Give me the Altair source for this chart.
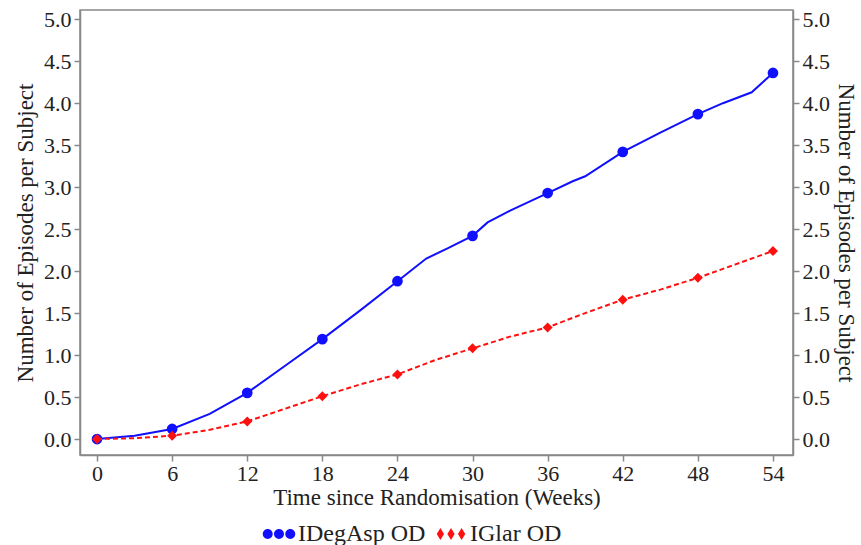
import altair as alt
import pandas as pd

# ---- data ----
series_names = ["IDegAsp OD", "IGlar OD"]
series_colors = ["#1010ff", "#ff1010"]

week_ticks = [0, 6, 12, 18, 24, 30, 36, 42, 48, 54]
y_ticks = [0.0, 0.5, 1.0, 1.5, 2.0, 2.5, 3.0, 3.5, 4.0, 4.5, 5.0]

blue_line_weeks = [0, 3, 6, 9, 12, 15, 18, 21, 24, 26.3, 28, 30, 31.2, 33, 36, 38, 39, 42, 45, 48, 50, 52.3, 54]
blue_line_vals = [0.0, 0.04, 0.12, 0.30, 0.55, 0.87, 1.19, 1.53, 1.88, 2.15, 2.27, 2.42, 2.58, 2.72, 2.93, 3.07, 3.13, 3.42, 3.65, 3.87, 4.00, 4.13, 4.36]

red_line_weeks = [0, 3, 6, 9, 12, 15, 18, 21, 24, 27, 30, 33, 36, 39, 42, 45, 48, 51, 54]
red_line_vals = [0.0, 0.01, 0.04, 0.11, 0.21, 0.36, 0.51, 0.65, 0.77, 0.94, 1.08, 1.22, 1.33, 1.50, 1.66, 1.78, 1.92, 2.08, 2.24]

marker_weeks = [0, 6, 12, 18, 24, 30, 36, 42, 48, 54]
blue_marker_vals = [0.0, 0.12, 0.55, 1.19, 1.88, 2.42, 2.93, 3.42, 3.87, 4.36]
red_marker_vals = [0.0, 0.04, 0.21, 0.51, 0.77, 1.08, 1.33, 1.66, 1.92, 2.24]

# ---- tables ----
blue_line = pd.DataFrame({"week": blue_line_weeks, "val": blue_line_vals})
red_line = pd.DataFrame({"week": red_line_weeks, "val": red_line_vals})
blue_pts = pd.DataFrame({"week": marker_weeks, "val": blue_marker_vals})
red_pts = pd.DataFrame({"week": marker_weeks, "val": red_marker_vals})
# legend-only table: its marks sit outside the x domain and are clipped away
legend_df = pd.DataFrame({"week": [-100, -100], "val": [0, 0], "series": series_names})

FONT = "Liberation Serif"
x_scale = alt.Scale(domain=[-1.36, 55.6], nice=False, zero=False)
y_scale = alt.Scale(domain=[-0.19, 5.11], nice=False, zero=False)

x_enc = alt.X("week:Q", scale=x_scale,
              axis=alt.Axis(values=week_ticks, title="Time since Randomisation (Weeks)", format="d"))

def y_enc(orient):
    return alt.Y("val:Q", scale=y_scale,
                 axis=alt.Axis(values=y_ticks, format=".1f", orient=orient,
                               title="Number of Episodes per Subject"))

three_dots = ("M -0.98 0 A 0.3 0.3 0 1 0 -0.38 0 A 0.3 0.3 0 1 0 -0.98 0 Z "
              "M -0.3 0 A 0.3 0.3 0 1 0 0.3 0 A 0.3 0.3 0 1 0 -0.3 0 Z "
              "M 0.38 0 A 0.3 0.3 0 1 0 0.98 0 A 0.3 0.3 0 1 0 0.38 0 Z")
three_diamonds = ("M -0.86 0 L -0.64 -0.36 L -0.42 0 L -0.64 0.36 Z "
                  "M -0.22 0 L 0 -0.36 L 0.22 0 L 0 0.36 Z "
                  "M 0.42 0 L 0.64 -0.36 L 0.86 0 L 0.64 0.36 Z")

legend = alt.Legend(
    title=None, orient="none", direction="horizontal",
    legendX=182, legendY=507,
    symbolSize=1100, symbolStrokeWidth=0, columnPadding=8,
    labelFont=FONT, labelFontSize=24, labelColor="#222", labelOffset=2, labelLimit=300,
)

blue_layer = alt.layer(
    alt.Chart(blue_line).mark_line(color=series_colors[0], strokeWidth=2).encode(x=x_enc, y=y_enc("left")),
    alt.Chart(blue_pts).mark_point(filled=True, size=115, opacity=1, shape="circle",
                                   color=series_colors[0]).encode(x=x_enc, y=y_enc("left")),
    alt.Chart(legend_df).mark_point(filled=True, opacity=1, clip=True).encode(
        x=x_enc, y=y_enc("left"),
        color=alt.Color("series:N", scale=alt.Scale(domain=series_names, range=series_colors), legend=legend),
        shape=alt.Shape("series:N", scale=alt.Scale(domain=series_names, range=[three_dots, three_diamonds]),
                        legend=legend)),
)
red_layer = alt.layer(
    alt.Chart(red_line).mark_line(color=series_colors[1], strokeWidth=2, strokeDash=[5, 3]).encode(x=x_enc, y=y_enc("right")),
    alt.Chart(red_pts).mark_point(filled=True, size=100, opacity=1, shape="diamond",
                                  color=series_colors[1]).encode(x=x_enc, y=y_enc("right")),
)

chart = alt.layer(blue_layer, red_layer).resolve_scale(y="independent").properties(
    width=713, height=445,
    autosize=alt.AutoSizeParams(type="none"),
    padding={"left": 80, "top": 10, "right": 68, "bottom": 90},
    background="white",
).configure(font=FONT).configure_view(stroke="#888888", strokeWidth=1.5).configure_axis(
    grid=False, domainColor="#888888", domainWidth=1.5, tickColor="#888888", tickSize=6, tickWidth=1.5,
    labelFont=FONT, labelFontSize=22, labelColor="#222", labelPadding=3,
    titleFont=FONT, titleFontSize=23, titleColor="#222", titleFontWeight="normal",
).configure_axisX(titlePadding=2, labelPadding=2).configure_axisLeft(titlePadding=6).configure_axisRight(
    titlePadding=4).configure_legend(labelFont=FONT, labelFontSize=24, labelColor="#222")

chart.save("out.html", embed_options={"renderer": "svg", "actions": False})
